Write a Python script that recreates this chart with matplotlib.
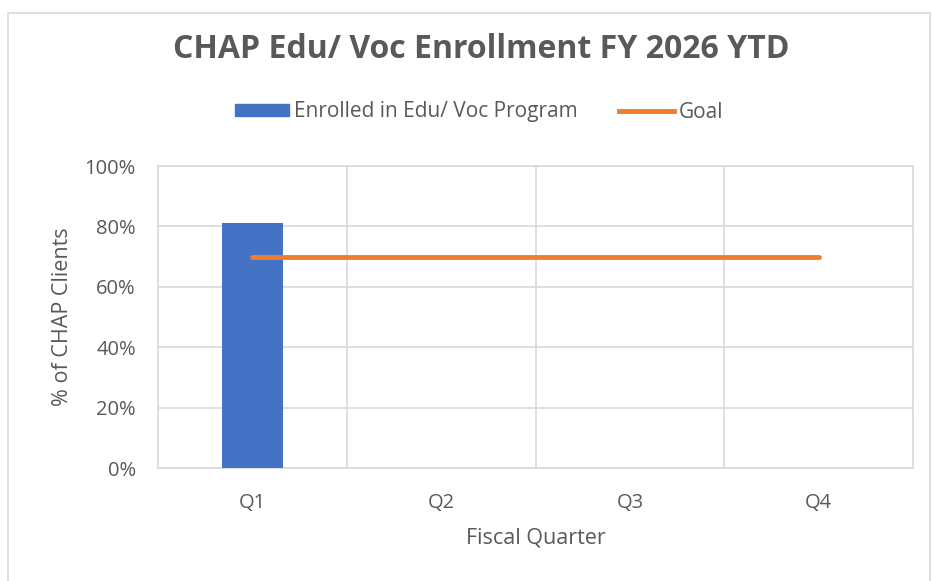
import matplotlib
matplotlib.use("Agg")
import matplotlib.pyplot as plt
import numpy as np
from matplotlib.patches import Patch, Rectangle
from matplotlib.lines import Line2D
from matplotlib.ticker import PercentFormatter, FixedLocator

# data
quarters = ["Q1", "Q2", "Q3", "Q4"]
enrolled = [0.81, np.nan, np.nan, np.nan]
goal = [0.70, 0.70, 0.70, 0.70]

BLUE = "#4472C4"
ORANGE = "#ED7D31"
TEXT = "#595959"
GRID = "#D9D9D9"

plt.rcParams["font.family"] = ["Open Sans", "DejaVu Sans"]

fig = plt.figure(figsize=(9.32, 5.81), dpi=100)
fig.patch.set_facecolor("white")

# outer chart border
fig.patches.append(Rectangle((8 / 932, -0.01), 922 / 932, 1 - 13 / 581 + 0.01,
                             transform=fig.transFigure, fill=False,
                             edgecolor=GRID, linewidth=1.2))

ax = fig.add_axes([158 / 932, 1 - 468 / 581, (913 - 158) / 932, (468 - 166) / 581])

x = np.arange(len(quarters))
ax.bar(x, enrolled, width=0.32, color=BLUE, zorder=3)
ax.plot(x, goal, color=ORANGE, linewidth=3.5, solid_capstyle="round", zorder=4)

ax.set_xlim(-0.5, 3.5)
ax.set_ylim(0, 1.0)
ax.set_yticks(np.arange(0, 1.01, 0.2))
ax.yaxis.set_major_formatter(PercentFormatter(1.0, decimals=0))
ax.set_xticks(x)
ax.set_xticklabels(quarters)
ax.xaxis.set_minor_locator(FixedLocator([0.5, 1.5, 2.5]))

ax.grid(axis="y", which="major", color=GRID, linewidth=1.2, zorder=0)
ax.grid(axis="x", which="minor", color=GRID, linewidth=1.2, zorder=0)
ax.tick_params(which="both", length=0, colors=TEXT, labelsize=14.5)
ax.tick_params(axis="x", pad=18)
ax.tick_params(axis="y", pad=16)
for s in ax.spines.values():
    s.set_color(GRID)
    s.set_linewidth(1.2)

ax.set_xlabel("Fiscal Quarter", color=TEXT, fontsize=15.5, va="center")
ax.xaxis.set_label_coords(0.5, (468 - 538) / 302)
ax.set_ylabel("% of CHAP Clients", color=TEXT, fontsize=15.5, va="center")
ax.yaxis.set_label_coords((62 - 158) / 755, 0.5)

fig.text(481 / 932, 1 - 50 / 581, "CHAP Edu/ Voc Enrollment FY 2026 YTD", ha="center",
         va="center", fontsize=23, fontweight="bold", color=TEXT)

handles = [Patch(facecolor=BLUE, edgecolor=BLUE),
           Line2D([0], [0], color=ORANGE, linewidth=3.5)]
fig.legend(handles, ["Enrolled in Edu/ Voc Program", "Goal"], loc="center",
           bbox_to_anchor=(479 / 932, 1 - 112 / 581), ncol=2, frameon=False,
           fontsize=15, labelcolor=TEXT, handlelength=2.6, handleheight=0.5,
           handletextpad=0.25, columnspacing=2.0, borderpad=0)

fig.savefig("out.png", dpi=100, facecolor="white")
